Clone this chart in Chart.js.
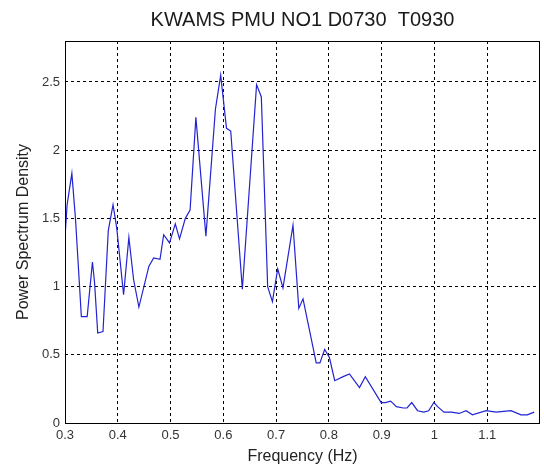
<!DOCTYPE html>
<html>
<head>
<meta charset="utf-8">
<script src="https://cdn.jsdelivr.net/npm/chart.js@4"></script>
<style>
html,body{margin:0;padding:0;background:#fff;}
#wrap{width:544px;height:469px;position:relative;}
</style>
</head>
<body>
<div id="wrap"><canvas id="c" width="544" height="469"></canvas></div>
<script>
const chartTitle = 'KWAMS PMU NO1 D0730  T0930';
const xAxisTitle = 'Frequency (Hz)';
const yAxisTitle = 'Power Spectrum Density';
const xTickValues = [0.3, 0.4, 0.5, 0.6, 0.7, 0.8, 0.9, 1, 1.1];
const yTickValues = [0, 0.5, 1, 1.5, 2, 2.5];

const freq = [0.300,0.304,0.313,0.320,0.331,0.342,0.352,0.356,0.362,0.372,
  0.382,0.391,0.398,0.411,0.421,0.430,0.440,0.459,0.468,0.480,
  0.487,0.498,0.509,0.517,0.528,0.537,0.548,0.567,0.585,0.595,
  0.606,0.614,0.636,0.663,0.672,0.684,0.693,0.703,0.713,0.732,
  0.743,0.751,0.776,0.783,0.792,0.801,0.811,0.827,0.839,0.858,
  0.869,0.899,0.907,0.917,0.928,0.941,0.948,0.957,0.968,0.980,
  0.989,0.999,1.006,1.018,1.032,1.047,1.060,1.072,1.098,1.117,
  1.145,1.164,1.176,1.189];
const psd = [1.36,1.60,1.83,1.49,0.78,0.78,1.18,1.03,0.66,0.67,
  1.41,1.60,1.43,0.94,1.36,1.05,0.85,1.15,1.21,1.20,
  1.38,1.32,1.46,1.35,1.50,1.56,2.24,1.37,2.30,2.55,
  2.16,2.14,0.98,2.48,2.39,1.00,0.89,1.13,0.99,1.45,
  0.84,0.91,0.44,0.44,0.54,0.48,0.31,0.34,0.36,0.26,
  0.34,0.15,0.15,0.16,0.12,0.11,0.11,0.15,0.09,0.08,
  0.09,0.15,0.12,0.08,0.08,0.07,0.09,0.06,0.09,0.08,
  0.09,0.06,0.06,0.08];

const FONT = "'Liberation Sans', Arial, sans-serif";
const points = freq.map((f, i) => ({x: f, y: psd[i]}));

const boxPlugin = {
  id: 'box',
  afterDraw(chart) {
    const a = chart.chartArea, ctx = chart.ctx;
    ctx.save();
    ctx.strokeStyle = '#000';
    ctx.lineWidth = 1;
    ctx.setLineDash([]);
    ctx.strokeRect(Math.round(a.left) + 0.5, Math.round(a.top) + 0.5,
      Math.round(a.right - a.left) - 1, Math.round(a.bottom - a.top));
    ctx.restore();
  }
};

function near(list, v) { return list.some(t => Math.abs(t - v) < 1e-6); }

new Chart(document.getElementById('c'), {
  type: 'line',
  data: {
    datasets: [{
      data: points,
      borderColor: '#2323d2',
      borderWidth: 1.2,
      pointRadius: 0,
      tension: 0,
      fill: false
    }]
  },
  options: {
    responsive: false,
    animation: false,
    layout: {padding: {top: 0, right: 4, left: 0, bottom: 0}},
    plugins: {
      legend: {display: false},
      tooltip: {enabled: false},
      title: {
        display: true,
        text: chartTitle,
        fullSize: false,
        color: '#1a1a1a',
        font: {family: FONT, size: 20, weight: 'normal'},
        padding: {top: 8, bottom: 9}
      }
    },
    scales: {
      x: {
        type: 'linear',
        min: 0.3,
        max: 1.2,
        afterBuildTicks(s) { s.ticks = xTickValues.map(v => ({value: v})); },
        afterFit(s) { s.height = 46; },
        ticks: {
          color: '#333',
          font: {family: FONT, size: 13},
          padding: 5,
          maxRotation: 0,
          autoSkip: false,
          callback: v => String(Number(v.toFixed(2)))
        },
        grid: {color: '#000', lineWidth: 1, drawTicks: false},
        border: {display: false, dash: [3, 3]},
        title: {
          display: true,
          text: xAxisTitle,
          color: '#222',
          font: {family: FONT, size: 16},
          padding: {top: 0, bottom: 3}
        }
      },
      y: {
        min: 0,
        max: 2.8,
        afterBuildTicks(s) { s.ticks = yTickValues.map(v => ({value: v})); },
        afterFit(s) { s.width = 65; },
        ticks: {
          color: '#333',
          font: {family: FONT, size: 13},
          padding: 5,
          autoSkip: false,
          callback: v => String(Number(v.toFixed(2)))
        },
        grid: {color: '#000', lineWidth: 1, drawTicks: false},
        border: {display: false, dash: [3, 3]},
        title: {
          display: true,
          text: yAxisTitle,
          color: '#222',
          font: {family: FONT, size: 16},
          padding: {top: 14, bottom: 0}
        }
      }
    }
  },
  plugins: [boxPlugin]
});
</script>
</body>
</html>
